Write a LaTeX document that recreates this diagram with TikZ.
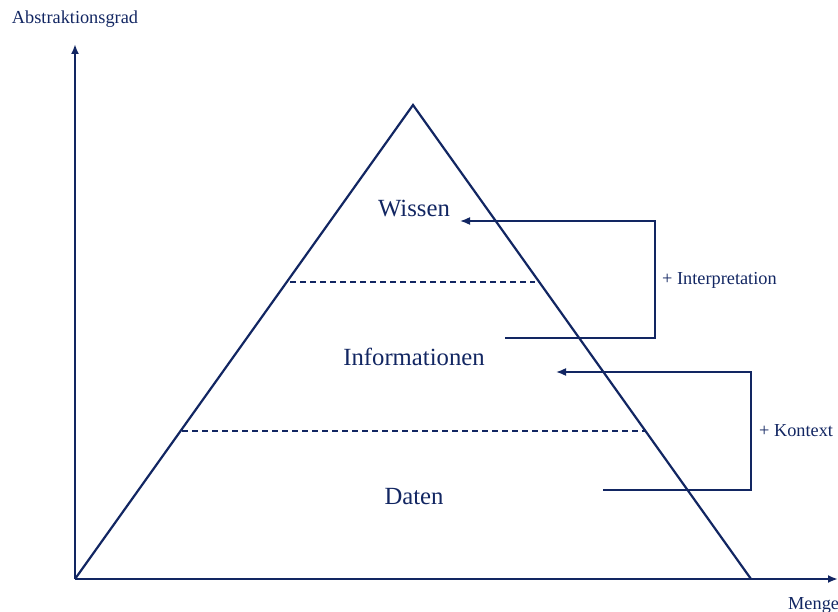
\documentclass[tikz,border=0pt]{standalone}
\usepackage{fontspec}
\setmainfont{Liberation Serif}
\usetikzlibrary{arrows.meta}
\definecolor{navy}{RGB}{18,38,98}
\begin{document}
\begin{tikzpicture}[x=1pt,y=-1pt,
  ln/.style={draw=navy,line width=2.2pt},
  dl/.style={draw=navy,line width=1.4pt,dash pattern=on 6pt off 4pt},
  arr/.style={-{Latex[length=10pt,width=8pt]}},
  big/.style={text=navy,font=\fontsize{24.7}{28}\selectfont,inner sep=0pt},
  small/.style={text=navy,font=\fontsize{18.3}{22}\selectfont,inner sep=0pt}]
\useasboundingbox (0,0) rectangle (838,612);
% axes
\coordinate (O) at (75,579);
\coordinate (Ytop) at (75,44);
\coordinate (Xend) at (838,579);
\draw[ln,arr] (O) -- (Ytop);
\draw[ln,arr] (O) -- (Xend);
\node[small,anchor=base] (ya) at (75,24) {Abstraktionsgrad};
\node[small,anchor=base west] (xa) at (788,609) {Menge};
% triangle
\coordinate (A) at (413,105);
\coordinate (L) at (75,579);
\coordinate (R) at (751,579);
\draw[ln,line join=miter] (L) -- (A) -- (R);
% dashed lines
\coordinate (d1a) at (290,282);
\coordinate (d1b) at (535,282);
\coordinate (d2a) at (182,431);
\coordinate (d2b) at (645,431);
\draw[dl] (d1a) -- (d1b);
\draw[dl] (d2a) -- (d2b);
% labels
\node[big] (w) at (414,209) {Wissen};
\node[big] (i) at (414,357) {Informationen};
\node[big] (d) at (414,497) {Daten};
% interpretation bracket
\coordinate (p1) at (505,338);
\coordinate (p2) at (655,338);
\coordinate (p3) at (655,221);
\coordinate (p4) at (460,221);
\draw[ln,line width=1.6pt,arr] (p1) -- (p2) -- (p3) -- (p4);
\node[small,anchor=west] (ip) at (662,280) {+ Interpretation};
% context bracket
\coordinate (k1) at (603,490);
\coordinate (k2) at (751,490);
\coordinate (k3) at (751,372);
\coordinate (k4) at (556,372);
\draw[ln,line width=1.6pt,arr] (k1) -- (k2) -- (k3) -- (k4);
\node[small,anchor=west] (kt) at (759,431) {+ Kontext};
\end{tikzpicture}
\end{document}
